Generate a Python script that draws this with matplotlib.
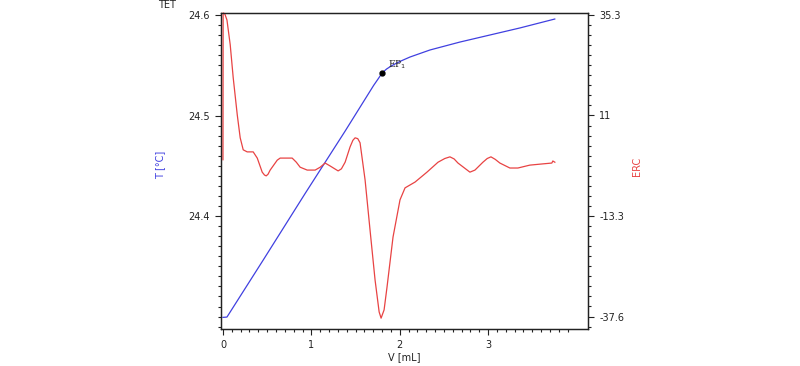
import numpy as np
import matplotlib.pyplot as plt
from matplotlib.ticker import MultipleLocator

plt.rcParams['font.family'] = ['DejaVu Sans']

# temperature curve (left axis)
vol_t = [0.0, 0.045, 0.455, 0.930, 1.382, 1.705, 1.760, 1.800, 1.850, 1.890,
         1.950, 2.020, 2.116, 2.342, 2.681, 3.020, 3.359, 3.754]
temp = [24.2992, 24.2995, 24.3562, 24.4225, 24.4845, 24.5300, 24.5370, 24.5423,
        24.5462, 24.5485, 24.5515, 24.5545, 24.5582, 24.5652, 24.5731, 24.5801,
        24.5871, 24.5960]

# ERC curve (right axis)
vol_erc = [0.0, 0.002, 0.020, 0.045, 0.082, 0.116, 0.162, 0.195, 0.229, 0.274,
           0.342, 0.388, 0.444, 0.470, 0.489, 0.510, 0.534, 0.614, 0.647, 0.783,
           0.830, 0.873, 0.953, 1.043, 1.100, 1.156, 1.212, 1.303, 1.340, 1.382,
           1.438, 1.470, 1.495, 1.525, 1.551, 1.608, 1.664, 1.721, 1.767, 1.789,
           1.823, 1.856, 1.924, 2.003, 2.060, 2.173, 2.308, 2.433, 2.510, 2.568,
           2.615, 2.659, 2.794, 2.851, 2.941, 2.990, 3.032, 3.080, 3.133, 3.246,
           3.337, 3.472, 3.619, 3.721, 3.732, 3.755]
erc = [0.3, 35.8, 35.6, 34.1, 28.1, 20.1, 11.1, 5.6, 2.7, 2.2,
       2.2, 0.7, -2.7, -3.4, -3.6, -3.2, -2.2, 0.2, 0.7, 0.7,
       -0.3, -1.5, -2.2, -2.2, -1.5, -0.5, -1.2, -2.4, -1.9, -0.3,
       3.4, 5.0, 5.6, 5.4, 4.4, -4.6, -16.7, -28.8, -36.5, -38.0,
       -36.0, -30.5, -18.4, -9.4, -6.5, -5.1, -2.7, -0.3, 0.6, 1.0,
       0.5, -0.5, -2.7, -2.2, -0.3, 0.6, 1.0, 0.4, -0.5, -1.7,
       -1.7, -1.0, -0.7, -0.5, 0.0, -0.3]

ep_vol, ep_temp = 1.80, 24.5423

blue = '#4040e0'
red = '#e84343'

fig = plt.figure(figsize=(8, 3.66), dpi=100)
ax = fig.add_axes([0.2765, 0.101, 0.4585, 0.8635])
ax2 = ax.twinx()

ax.plot(vol_t, temp, color=blue, lw=0.9, zorder=3)
ax.plot([ep_vol], [ep_temp], 'o', color='black', ms=3.5, zorder=4)
ax.text(ep_vol + 0.07, ep_temp + 0.002, 'EP$_1$', fontsize=6.5, family='DejaVu Serif',
        va='bottom', ha='left', color='#222222')
ax2.plot(vol_erc, erc, color=red, lw=0.9, clip_on=False)

ax.set_xlim(-0.02, 4.13)
ax.set_ylim(24.2876, 24.602)
ax2.set_ylim(-40.63, 35.78)

ax.set_xticks([0, 1, 2, 3])
ax.set_xticks(np.arange(0, 3.95, 0.1), minor=True)
ax.set_yticks([24.4, 24.5, 24.6])
ax.yaxis.set_minor_locator(MultipleLocator(0.01))
ax2.set_yticks([35.3, 11, -13.3, -37.6])
ax2.set_yticklabels(['35.3', '11', '-13.3', '-37.6'])
ax2.set_yticks(35.3 - 2.43 * np.arange(0, 32), minor=True)

for a in (ax, ax2):
    a.tick_params(which='major', length=4, width=0.8, labelsize=7, colors='#222222')
    a.tick_params(which='minor', length=2.5, width=0.8, colors='#222222')
    for s in a.spines.values():
        s.set_linewidth(0.9)
        s.set_color('#222222')
ax.tick_params(axis='x', pad=4)
ax.tick_params(axis='y', pad=4)
ax2.tick_params(axis='y', pad=4)

fig.text(158 / 800, 1 - 5 / 366, 'TET', fontsize=7, ha='left', va='center', color='#222222')
fig.text(160 / 800, 1 - 165 / 366, 'T [°C]', fontsize=7, rotation=90,
         ha='center', va='center', color=blue)
fig.text(637 / 800, 1 - 166 / 366, 'ERC', fontsize=7, rotation=90,
         ha='center', va='center', color=red)
fig.text(404 / 800, 1 - 357 / 366, 'V [mL]', fontsize=7, ha='center', va='center',
         color='#222222')

fig.savefig('out.png', dpi=100)
